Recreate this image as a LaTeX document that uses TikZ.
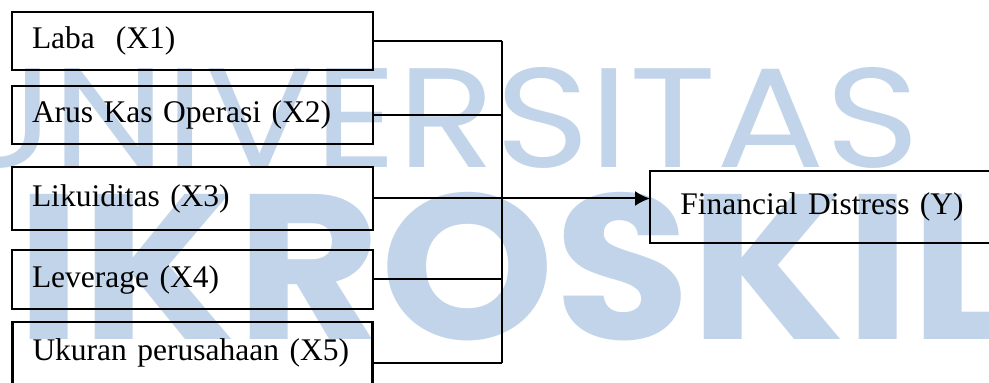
\documentclass[tikz,border=0pt]{standalone}
\usepackage{fontspec}
\setmainfont{Liberation Serif}
\newfontfamily\wmfont{Poppins}
\usepackage{graphicx}
\usepackage{xcolor}
\usetikzlibrary{arrows.meta,positioning}
\definecolor{wmblue}{RGB}{194,212,233}

\begin{document}
\begin{tikzpicture}[
  x=1pt, y=1pt,
  font=\fontsize{31.5}{36}\selectfont,
  box/.style={rectangle, draw=black, line width=2.4pt, outer sep=0pt, align=left, text width=321pt, inner xsep=20pt, minimum height=58pt},
  line/.style={line width=2pt},
  arrow/.style={-{Latex[length=15pt, width=15pt]}, line width=2pt}
]
\useasboundingbox (0,0) rectangle (989,383);
\clip (0,0) rectangle (989,383);
% watermark
\node[inner sep=0pt, anchor=base east, text=wmblue, font=\wmfont] (wmtop) at (920,215) {\resizebox{975pt}{100pt}{UNIVERSITAS}};
\node[inner sep=0pt, anchor=base west, text=wmblue, font=\wmfont\bfseries] (wmbottom) at (16,43) {\resizebox{1000pt}{147pt}{IKROSKIL}};
% variabel independen
\node[box, anchor=north west] (laba) at (12,371) {Laba\ \ (X1)};
\node[box, below=16pt of laba] (arus) {Arus Kas Operasi (X2)};
\node[box, below=23pt of arus, minimum height=63pt] (likuiditas) {Likuiditas (X3)};
\node[box, below=20pt of likuiditas, minimum height=59pt] (leverage) {Leverage (X4)};
\node[box, below=13pt of leverage, text width=320pt, minimum height=82pt, text depth=27pt] (ukuran) {Ukuran perusahaan (X5)};
% variabel dependen
\node[box, anchor=north west, align=center, text width=300pt, inner xsep=22pt, minimum height=72pt] (distress) at (650,212) {Financial Distress (Y)};
\coordinate (bus) at (502,0);
\draw[line] (laba.east) -- (laba.east -| bus);
\draw[line] (arus.east) -- (arus.east -| bus);
\draw[line] (likuiditas.east) -- (likuiditas.east -| bus);
\draw[line] (leverage.east) -- (leverage.east -| bus);
\draw[line] (ukuran.east) -- (ukuran.east -| bus);
\draw[line] (laba.east -| bus) -- (ukuran.east -| bus);
\draw[arrow] (likuiditas.east -| bus) -- (likuiditas.east -| distress.west);
\end{tikzpicture}
\end{document}
